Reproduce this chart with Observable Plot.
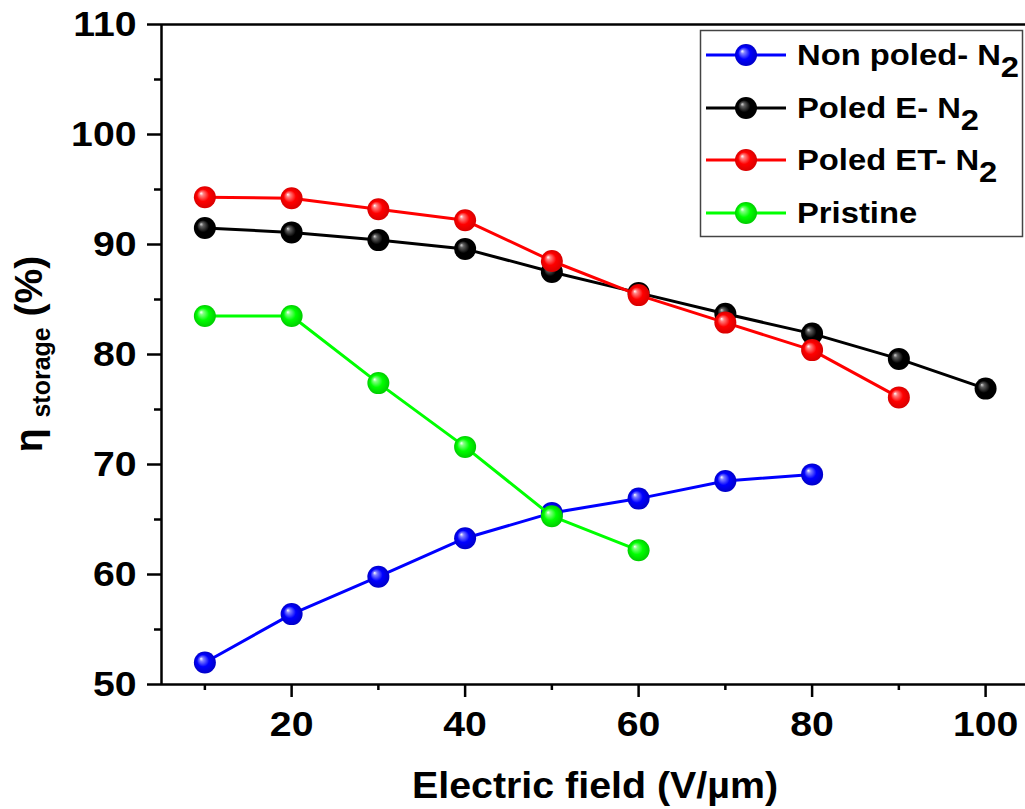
<!DOCTYPE html>
<html><head><meta charset="utf-8">
<script src="https://cdn.jsdelivr.net/npm/d3@7"></script>
<script src="https://cdn.jsdelivr.net/npm/@observablehq/plot@0.6"></script>
<style>
body{margin:0;background:#fff;}
#wrap{position:relative;width:1025px;height:809px;font-family:"Liberation Sans",Arial,sans-serif;}
#legend{position:absolute;left:0;top:0;pointer-events:none;}
</style></head><body><div id="wrap"></div>
<script>
// ---- data ----
const fieldsNonPoled = [10, 20, 30, 40, 50, 60, 70, 80];
const nonPoled = [52.0, 56.4, 59.8, 63.3, 65.6, 66.9, 68.5, 69.1];
const fieldsPoledE = [10, 20, 30, 40, 50, 60, 70, 80, 90, 100];
const poledE = [91.5, 91.1, 90.4, 89.6, 87.5, 85.6, 83.7, 81.9, 79.6, 76.9];
const fieldsPoledET = [10, 20, 30, 40, 50, 60, 70, 80, 90];
const poledET = [94.3, 94.2, 93.2, 92.2, 88.5, 85.4, 82.9, 80.4, 76.1];
const fieldsPristine = [10, 20, 30, 40, 50, 60];
const pristine = [83.5, 83.5, 77.4, 71.6, 65.3, 62.2];
const seriesLabels = ["Non poled- N", "Poled E- N", "Poled ET- N", "Pristine"];
const seriesSub = ["2", "2", "2", ""];
const seriesColors = ["#0000ff", "#000000", "#ff0000", "#00ff00"];
const xMajorTicks = [20, 40, 60, 80, 100];
const xMinorTicks = [10, 30, 50, 70, 90];
const yMajorTicks = [50, 60, 70, 80, 90, 100, 110];
const yMinorTicks = [55, 65, 75, 85, 95, 105];

const seriesData = [
  [fieldsNonPoled, nonPoled],
  [fieldsPoledE, poledE],
  [fieldsPoledET, poledET],
  [fieldsPristine, pristine]
].map(([xs, ys]) => xs.map((x, i) => ({field: x, value: ys[i]})));

// sphere gradient stops per series (highlight, mid, base, edge)
const gradStops = [
  ["#ffffff", "#8080ff", "#0000ff", "#0000c8"],
  ["#d8d8d8", "#606060", "#000000", "#000000"],
  ["#ffffff", "#ff8080", "#ff0000", "#d80000"],
  ["#ffffff", "#80ff80", "#00ff00", "#00cc00"]
];

const marks = [
  Plot.ruleY([50], {strokeWidth: 2.5}),
  Plot.ruleY([110], {strokeWidth: 2.5}),
  Plot.ruleX([5], {strokeWidth: 2.5}),
  Plot.axisY({ticks: yMajorTicks, tickSize: 14, tickPadding: 11, fontSize: 35, fontWeight: "bold", strokeWidth: 2.5, label: null}),
  Plot.axisY({ticks: yMinorTicks, tickSize: 7, tickFormat: () => "", strokeWidth: 2.5, label: null}),
  Plot.axisX({ticks: xMajorTicks, tickSize: 13, tickPadding: 14, fontSize: 35, fontWeight: "bold", strokeWidth: 2.5, label: null}),
  Plot.axisX({ticks: xMinorTicks, tickSize: 6, tickFormat: () => "", strokeWidth: 2.5, label: null})
];
seriesData.forEach((d, i) => {
  marks.push(Plot.line(d, {x: "field", y: "value", stroke: seriesColors[i], strokeWidth: 3}));
  marks.push(Plot.dot(d, {x: "field", y: "value", r: 11, fill: `url(#sph${i})`, stroke: "none"}));
});

const chart = Plot.plot({
  width: 1025,
  height: 809,
  marginLeft: 161,
  marginTop: 24,
  marginBottom: 125,
  marginRight: 0,
  x: {domain: [5, 104.6]},
  y: {domain: [50, 110]},
  style: {fontFamily: "'Liberation Sans', Arial, sans-serif", color: "#000", background: "#fff", overflow: "visible"},
  marks
});

const svg = d3.select(chart);
const defs = svg.insert("defs", ":first-child");
gradStops.forEach((s, i) => {
  const g = defs.append("radialGradient").attr("id", `sph${i}`)
    .attr("cx", "0.5").attr("cy", "0.5").attr("r", "0.5").attr("fx", "0.32").attr("fy", "0.32");
  g.append("stop").attr("offset", "0").attr("stop-color", s[0]);
  g.append("stop").attr("offset", "0.18").attr("stop-color", s[1]);
  g.append("stop").attr("offset", "0.55").attr("stop-color", s[2]);
  g.append("stop").attr("offset", "1").attr("stop-color", s[3]);
});

// axis titles
svg.append("text")
  .attr("x", 595).attr("y", 798)
  .attr("text-anchor", "middle")
  .attr("font-size", 36).attr("font-weight", "bold")
  .attr("fill", "#000")
  .attr("textLength", 366).attr("lengthAdjust", "spacingAndGlyphs")
  .text("Electric field (V/\u00b5m)");

const yt = svg.append("text")
  .attr("transform", "translate(42,354) rotate(-90)")
  .attr("text-anchor", "middle")
  .attr("font-weight", "bold").attr("fill", "#000");
yt.append("tspan").attr("font-size", 39).text("\u03b7 ");
yt.append("tspan").attr("font-size", 25).attr("dy", 8).text("storage");
yt.append("tspan").attr("font-size", 39).attr("dy", -8).text(" (%)");

const wrap = document.getElementById("wrap");
wrap.appendChild(chart);

// widen tick labels slightly (reference text is horizontally wide)
svg.selectAll('g[aria-label="y-axis tick label"] text, g[aria-label="x-axis tick label"] text').each(function() {
  const len = this.getComputedTextLength();
  if (len > 0) d3.select(this).attr("textLength", len * 1.12).attr("lengthAdjust", "spacingAndGlyphs");
});

// legend (overlay)
const lg = d3.select(wrap).append("svg").attr("id", "legend")
  .attr("width", 1025).attr("height", 260)
  .style("font-family", "'Liberation Sans', Arial, sans-serif");
lg.append("rect").attr("x", 700.5).attr("y", 30.5).attr("width", 322).attr("height", 206)
  .attr("fill", "#fff").attr("stroke", "#444").attr("stroke-width", 1.5);
const rowMid = [55, 108, 160, 213];
seriesLabels.forEach((lab, i) => {
  const cy = rowMid[i];
  lg.append("line").attr("x1", 706).attr("x2", 786).attr("y1", cy).attr("y2", cy)
    .attr("stroke", seriesColors[i]).attr("stroke-width", 3);
  lg.append("circle").attr("cx", 746).attr("cy", cy).attr("r", 11).attr("fill", `url(#sph${i})`);
  const t = lg.append("text").attr("x", 797).attr("y", cy + 10)
    .attr("font-size", 29).attr("font-weight", "bold").attr("fill", "#000");
  t.append("tspan").text(lab);
  if (seriesSub[i]) t.append("tspan").attr("dy", 12).text(seriesSub[i]);
  const node = t.node();
  const len = node.getComputedTextLength();
  t.attr("textLength", len * 1.13).attr("lengthAdjust", "spacingAndGlyphs");
});
</script>
</body></html>
